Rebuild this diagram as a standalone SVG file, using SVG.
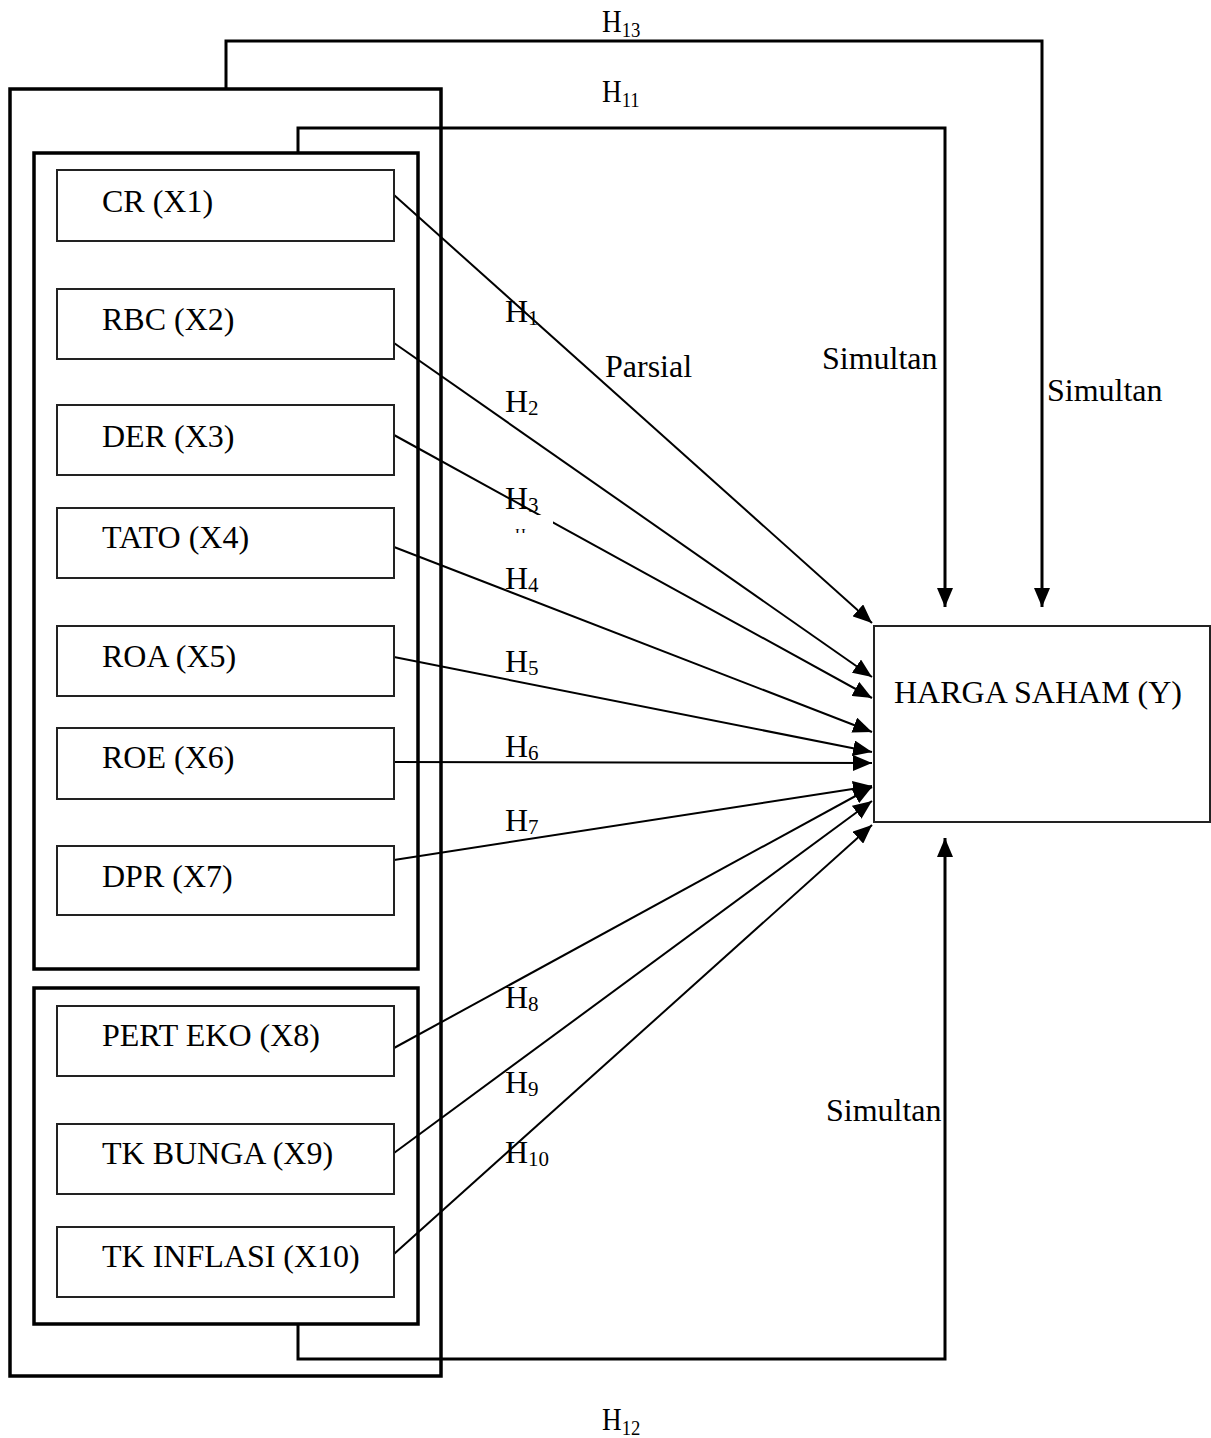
<svg xmlns="http://www.w3.org/2000/svg" width="1211" height="1438" viewBox="0 0 1211 1438">
<style>
.frame{fill:none;stroke:#000;stroke-width:3.5}
.node{fill:#fff;stroke:#222;stroke-width:2}
.t{font-family:"Liberation Serif","Times New Roman",serif;font-size:32px;fill:#000}
.lbl{font-family:"Liberation Serif","Times New Roman",serif;font-size:32px;fill:#000}
.sub{font-size:21px}
.bus{fill:none;stroke:#000;stroke-width:3}
.arr{fill:none;stroke:#000;stroke-width:2}
</style>
<defs>
<marker id="ah" markerUnits="userSpaceOnUse" markerWidth="20" markerHeight="16" refX="19" refY="8" orient="auto">
<path d="M0,0 L19,8 L0,16 z" fill="#000"/>
</marker>
<clipPath id="hclip"><rect x="505" y="520" width="48" height="13"/></clipPath>
</defs>
<g id="frames">
<rect class="frame" x="10" y="89" width="431" height="1287"/>
<rect class="frame" x="34" y="153" width="384" height="816"/>
<rect class="frame" x="34" y="988" width="384" height="336"/>
</g>
<g id="connectors">
<polyline class="bus" points="226,89 226,41 1042,41 1042,607" marker-end="url(#ah)"/>
<polyline class="bus" points="298,153 298,128 945,128 945,607" marker-end="url(#ah)"/>
<polyline class="bus" points="298,1324 298,1359 945,1359 945,838" marker-end="url(#ah)"/>
<line class="arr" x1="394" y1="195" x2="872" y2="623" marker-end="url(#ah)"/>
<line class="arr" x1="394" y1="343" x2="872" y2="677" marker-end="url(#ah)"/>
<line class="arr" x1="394" y1="435" x2="872" y2="698" marker-end="url(#ah)"/>
<line class="arr" x1="394" y1="547" x2="872" y2="732" marker-end="url(#ah)"/>
<line class="arr" x1="394" y1="657" x2="872" y2="752" marker-end="url(#ah)"/>
<line class="arr" x1="394" y1="762" x2="872" y2="763" marker-end="url(#ah)"/>
<line class="arr" x1="394" y1="860" x2="872" y2="786" marker-end="url(#ah)"/>
<line class="arr" x1="394" y1="1048" x2="872" y2="787" marker-end="url(#ah)"/>
<line class="arr" x1="394" y1="1153" x2="872" y2="801" marker-end="url(#ah)"/>
<line class="arr" x1="394" y1="1254" x2="872" y2="825" marker-end="url(#ah)"/>
</g>
<g id="x1"><rect class="node" x="57" y="170" width="337" height="71"/><text class="t" x="102" y="212">CR (X1)</text></g>
<g id="x2"><rect class="node" x="57" y="289" width="337" height="70"/><text class="t" x="102" y="330">RBC (X2)</text></g>
<g id="x3"><rect class="node" x="57" y="405" width="337" height="70"/><text class="t" x="102" y="447">DER (X3)</text></g>
<g id="x4"><rect class="node" x="57" y="508" width="337" height="70"/><text class="t" x="102" y="548">TATO (X4)</text></g>
<g id="x5"><rect class="node" x="57" y="626" width="337" height="70"/><text class="t" x="102" y="667">ROA (X5)</text></g>
<g id="x6"><rect class="node" x="57" y="728" width="337" height="71"/><text class="t" x="102" y="768">ROE (X6)</text></g>
<g id="x7"><rect class="node" x="57" y="846" width="337" height="69"/><text class="t" x="102" y="887">DPR (X7)</text></g>
<g id="x8"><rect class="node" x="57" y="1006" width="337" height="70"/><text class="t" x="102" y="1046">PERT EKO (X8)</text></g>
<g id="x9"><rect class="node" x="57" y="1124" width="337" height="70"/><text class="t" x="102" y="1164">TK BUNGA (X9)</text></g>
<g id="x10"><rect class="node" x="57" y="1227" width="337" height="70"/><text class="t" x="102" y="1267">TK INFLASI (X10)</text></g>
<g id="y"><rect class="node" x="874" y="626" width="336" height="196"/><text class="t" x="894" y="703">HARGA SAHAM (Y)</text></g>
<g id="labels">
<text class="lbl" x="505" y="322">H<tspan class="sub" dy="3">1</tspan></text>
<text class="lbl" x="505" y="412">H<tspan class="sub" dy="3">2</tspan></text>
<text class="lbl" x="505" y="509">H<tspan class="sub" dy="3">3</tspan></text>
<rect x="508" y="515" width="45" height="20" fill="#fff"/>
<text x="515" y="539" clip-path="url(#hclip)" font-family="Liberation Serif, serif" font-size="15">H</text>
<text class="lbl" x="505" y="589">H<tspan class="sub" dy="3">4</tspan></text>
<text class="lbl" x="505" y="672">H<tspan class="sub" dy="3">5</tspan></text>
<text class="lbl" x="505" y="757">H<tspan class="sub" dy="3">6</tspan></text>
<text class="lbl" x="505" y="831">H<tspan class="sub" dy="3">7</tspan></text>
<text class="lbl" x="505" y="1008">H<tspan class="sub" dy="3">8</tspan></text>
<text class="lbl" x="505" y="1093">H<tspan class="sub" dy="3">9</tspan></text>
<text class="lbl" x="505" y="1163">H<tspan class="sub" dy="3">10</tspan></text>
<text class="lbl" x="605" y="377">Parsial</text>
<text class="lbl" x="822" y="369">Simultan</text>
<text class="lbl" x="1047" y="401">Simultan</text>
<text class="lbl" x="826" y="1121">Simultan</text>
<text class="lbl" x="602" y="32" font-size="33" transform="translate(602,32) scale(0.85,1) translate(-602,-32)">H<tspan dy="5" font-size="22">13</tspan></text>
<text class="lbl" x="602" y="102" font-size="33" transform="translate(602,102) scale(0.85,1) translate(-602,-102)">H<tspan dy="5" font-size="22">11</tspan></text>
<text class="lbl" x="602" y="1430" font-size="33" transform="translate(602,1430) scale(0.85,1) translate(-602,-1430)">H<tspan dy="5" font-size="22">12</tspan></text>
</g>
</svg>
